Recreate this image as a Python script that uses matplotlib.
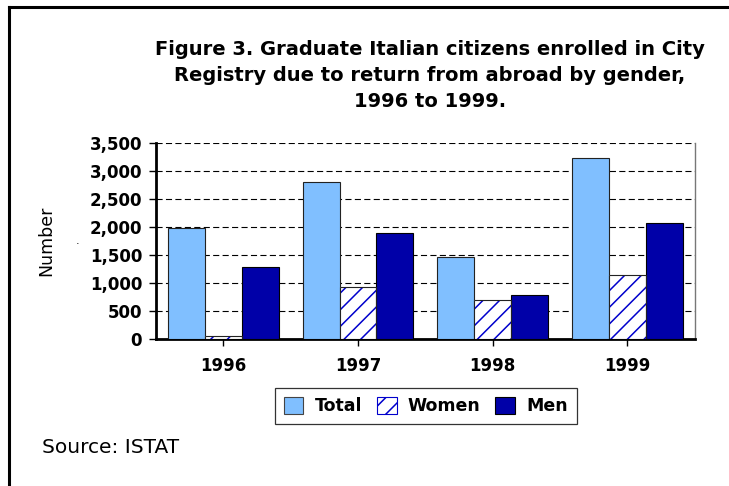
import numpy as np
import matplotlib.pyplot as plt
from matplotlib.patches import Patch
from matplotlib.lines import Line2D

plt.rcParams['font.family'] = ['DejaVu Sans']
plt.rcParams['hatch.linewidth'] = 1.1

# ── data ──
years = ['1996', '1997', '1998', '1999']
total = [1980, 2810, 1470, 3230]
women = [60, 920, 690, 1140]
men = [1290, 1890, 780, 2080]

c_total = '#80BFFF'
c_women = '#0000CC'
c_men = '#0000A8'

fig = plt.figure(figsize=(7.29, 4.86), dpi=100)
ax = fig.add_axes([0.214, 0.3025, 0.739, 0.4033])

x = np.arange(len(years))
w = 0.274

ax.bar(x - w, total, w, color=c_total, edgecolor='#222222', linewidth=0.8, zorder=3)
ax.bar(x, women, w, color='white', edgecolor=c_women, hatch='//', linewidth=0, zorder=3)
ax.bar(x, women, w, fill=False, edgecolor='#222222', linewidth=0.8, zorder=4)
ax.bar(x + w, men, w, color=c_men, edgecolor='black', linewidth=0.8, zorder=3)

ax.set_xlim(-0.5, 3.5)
ax.set_ylim(0, 3500)
ax.set_yticks(np.arange(0, 3501, 500))
ax.set_yticklabels([f'{v:,}' for v in range(0, 3501, 500)],
                   fontsize=12, fontweight='bold')
ax.set_xticks(x)
ax.set_xticklabels(years, fontsize=12, fontweight='bold')
ax.tick_params(axis='both', direction='out', length=5, width=1, color='black')
ax.tick_params(axis='y', pad=5)
ax.tick_params(axis='x', pad=8)

ax.yaxis.grid(True, color='black', linestyle=(0, (5.5, 3)), linewidth=0.8, zorder=0)
ax.set_axisbelow(True)
ax.spines['left'].set_linewidth(2)
ax.spines['bottom'].set_linewidth(2)
ax.spines['top'].set_visible(False)
ax.spines['right'].set_color('#777777')
ax.spines['right'].set_linewidth(1)

ax.set_ylabel('Number', fontsize=12.5, labelpad=25)
fig.text(0.106, 0.505, '.', fontsize=8, ha='center', va='center')

fig.text(0.59, 0.845,
         'Figure 3. Graduate Italian citizens enrolled in City\n'
         'Registry due to return from abroad by gender,\n'
         '1996 to 1999.',
         ha='center', va='center', fontsize=14, fontweight='bold',
         linespacing=1.46)

handles = [
    Patch(facecolor=c_total, edgecolor='#444444', linewidth=0.8),
    Patch(facecolor='white', edgecolor=c_women, hatch='//', linewidth=0.8),
    Patch(facecolor=c_men, edgecolor='black', linewidth=0.8),
]
leg = fig.legend(handles, ['Total', 'Women', 'Men'], ncol=3,
                 loc='center', bbox_to_anchor=(0.584, 0.164),
                 prop={'size': 12.5, 'weight': 'bold'},
                 frameon=True, fancybox=False, edgecolor='black',
                 handlelength=1.15, handleheight=1.1, handletextpad=0.63,
                 columnspacing=0.86, borderpad=0.5, borderaxespad=0)
leg.get_frame().set_linewidth(0.9)

fig.text(0.058, 0.08, 'Source: ISTAT', fontsize=14.5, ha='left', va='center')

# outer frame (left and top edges visible)
fig.add_artist(Line2D([0.012, 0.012], [0, 0.986], transform=fig.transFigure,
                      color='black', linewidth=2.2))
fig.add_artist(Line2D([0.012, 1.0], [0.986, 0.986], transform=fig.transFigure,
                      color='black', linewidth=2.2))

fig.savefig('out.png', dpi=100)
